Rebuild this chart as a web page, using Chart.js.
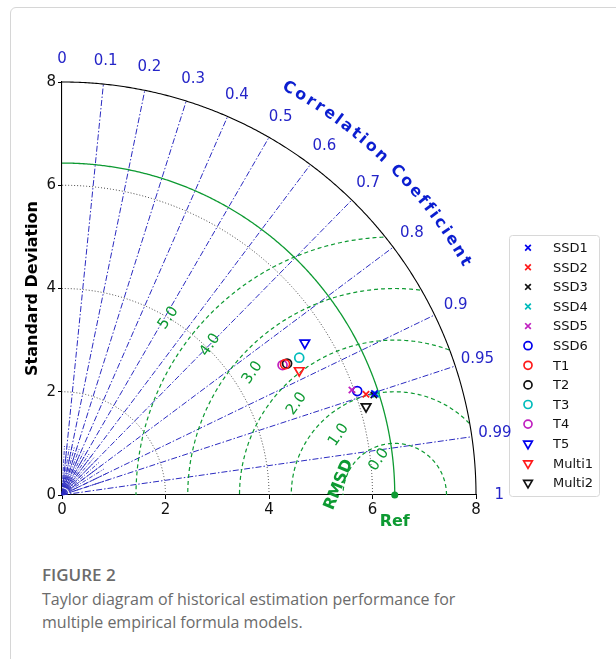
<!DOCTYPE html>
<html>
<head>
<meta charset="utf-8">
<script src="https://cdn.jsdelivr.net/npm/chart.js@4.4.1/dist/chart.umd.min.js"></script>
<style>
html,body{margin:0;padding:0;background:#fff}
#page{position:relative;width:616px;height:659px;overflow:hidden}
#card{position:absolute;left:10px;top:7px;width:660px;height:720px;border:1px solid #d6d6d6;border-radius:6px}
#wrap{position:absolute;left:0;top:0;width:616px;height:545px}
#cap{position:absolute;left:42px;top:563px;font-family:"Open Sans",sans-serif;color:#6b6b6b;font-size:16px;line-height:23px}
#cap b{display:block;font-weight:600;font-size:17px;margin-bottom:2px}
</style>
</head>
<body>
<div id="page">
  <div id="card"></div>
  <div id="wrap"><canvas id="taylor"></canvas></div>
  <div id="cap"><b>FIGURE 2</b>Taylor diagram of historical estimation performance for<br>multiple empirical formula models.</div>
</div>
<script>
// values: standard deviation and correlation of each model
const MODELS = ['SSD1','SSD2','SSD3','SSD4','SSD5','SSD6','T1','T2','T3','T4','T5','Multi1','Multi2']
const STD    = [6.35, 6.19, 6.33, 6.38, 5.96, 6.05, 5.00, 5.04, 5.30, 4.95, 5.54, 5.18, 6.12]
const CORR   = [0.951, 0.949, 0.952, 0.952, 0.940, 0.943, 0.862, 0.863, 0.865, 0.861, 0.847, 0.885, 0.960]
const REF_STD = 6.43

const STD_TICKS  = [0, 2, 4, 6, 8]
const STD_GRID   = [2, 4, 6]
const CORR_TICKS = [0, 0.1, 0.2, 0.3, 0.4, 0.5, 0.6, 0.7, 0.8, 0.9, 0.95, 0.99, 1]
const RMS_LEVELS = [1, 2, 3, 4, 5]
const RMS_LABELS = ['0.0', '1.0', '2.0', '3.0', '4.0', '5.0']

// styles
const BLUE = '#0000ee', RED = '#ff1a1a', BLACK = '#111', CYAN = '#00bcbc', MAG = '#c020c0'
const GREEN = '#0d9a32'
const MARK = [
  ['crossRot', BLUE], ['crossRot', RED], ['crossRot', BLACK], ['crossRot', CYAN], ['crossRot', MAG],
  ['circle', BLUE], ['circle', RED], ['circle', BLACK], ['circle', CYAN], ['circle', MAG],
  ['triangle', BLUE], ['triangle', RED], ['triangle', BLACK]
]
// where the contour labels sit: [distance from Ref, angle in degrees]
const RMS_LABEL_POS = [[0.75, 114], [1.59, 133], [2.59, 137], [3.63, 139.3], [4.6, 140.8], [5.56, 141.9]]

const RMAX = 8
const FONT = "'DejaVu Sans', sans-serif"

const rad = d => d * Math.PI / 180

const datasets = MODELS.map((m, i) => {
  const [style, col] = MARK[i]
  return {
    label: m,
    data: [{ x: STD[i] * CORR[i], y: STD[i] * Math.sqrt(1 - CORR[i] * CORR[i]) }],
    pointStyle: style,
    pointRotation: style == 'triangle' ? 180 : 0,
    pointRadius: style == 'triangle' ? 5.5 : 4.5,
    borderColor: col,
    backgroundColor: 'rgba(0,0,0,0)',
    borderWidth: 1.7,
    clip: false
  }
})
datasets.push({
  label: 'Ref', data: [{ x: REF_STD, y: 0 }], pointStyle: 'circle', pointRadius: 3.5,
  backgroundColor: GREEN, borderColor: GREEN, borderWidth: 0, clip: false
})

const taylorGrid = {
  id: 'taylorGrid',
  beforeDatasetsDraw(chart) {
    const { ctx, scales: { x, y } } = chart
    const line = (pts, color, width, dash) => {
      ctx.save()
      ctx.beginPath()
      pts.forEach((p, k) => {
        const px = x.getPixelForValue(p[0]), py = y.getPixelForValue(p[1])
        k ? ctx.lineTo(px, py) : ctx.moveTo(px, py)
      })
      ctx.strokeStyle = color; ctx.lineWidth = width; ctx.setLineDash(dash)
      ctx.stroke()
      ctx.restore()
    }
    const arc = (cx, r, amax, keep) => {
      const pts = []
      for (let k = 0; k <= 360; k++) {
        const a = amax * k / 360
        const p = [cx + r * Math.cos(a), r * Math.sin(a)]
        if (!keep || keep(p)) pts.push(p)
      }
      return pts
    }
    // short radial lines around the origin
    for (let c = 0.05; c < 1; c += 0.05) {
      const a = Math.acos(c)
      line([[0, 0], [0.95 * Math.cos(a), 0.95 * Math.sin(a)]], '#2b2bc0', 0.9, [4, 1.5, 1, 1.5])
    }
    // correlation lines
    CORR_TICKS.filter(c => c > 0 && c < 1).forEach(c => {
      const a = Math.acos(c)
      line([[0, 0], [RMAX * Math.cos(a), RMAX * Math.sin(a)]], '#2b2bc0', 1, [6, 2, 1.5, 2])
    })
    // std dev dotted arcs
    STD_GRID.forEach(r => line(arc(0, r, Math.PI / 2), '#444', 1, [1, 2]))
    // RMSD contours around Ref
    RMS_LEVELS.forEach(r => {
      line(arc(REF_STD, r, Math.PI, p => Math.hypot(p[0], p[1]) <= RMAX && p[0] >= 0), GREEN, 1.2, [4, 3])
    })
    // Ref std arc
    line(arc(0, REF_STD, Math.PI / 2), GREEN, 1.3, [])
    // outer arc
    line(arc(0, RMAX, Math.PI / 2), '#000', 1.1, [])
  },
  afterDraw(chart) {
    const { ctx, scales: { x, y } } = chart
    const px = v => x.getPixelForValue(v), py = v => y.getPixelForValue(v)
    const unit = px(1) - px(0)
    ctx.save()
    // legend
    const lx = 509, ly = 235, lw = 90, lh = 261
    ctx.beginPath()
    ctx.roundRect(lx + 0.5, ly + 0.5, lw, lh, 3)
    ctx.strokeStyle = '#d8d8d8'; ctx.lineWidth = 1; ctx.stroke()
    ctx.font = '13px ' + FONT
    ctx.textAlign = 'left'; ctx.textBaseline = 'middle'
    chart.data.datasets.slice(0, MODELS.length).forEach((ds, k) => {
      const yy = 247.7 + k * 19.6
      ctx.strokeStyle = ds.borderColor; ctx.lineWidth = 1.7; ctx.fillStyle = 'rgba(0,0,0,0)'
      Chart.helpers.drawPoint(ctx, { pointStyle: ds.pointStyle, rotation: ds.pointRotation, radius: ds.pointRadius - 0.5, borderWidth: 1.7 }, 528, yy)
      ctx.fillStyle = '#111'
      ctx.fillText(ds.label, 553, yy + 1)
    })
    // correlation tick labels
    ctx.font = '15px ' + FONT
    ctx.fillStyle = '#2525c8'
    ctx.textAlign = 'center'
    CORR_TICKS.forEach(c => {
      const a = Math.acos(c), r = 8.45
      ctx.fillText(String(c), px(r * Math.cos(a)), py(r * Math.sin(a)))
    })
    // curved axis title
    const title = 'Correlation Coefficient'
    ctx.font = 'bold 16px ' + FONT
    ctx.fillStyle = '#0b1ed0'
    const R = 9.0 * unit, a0 = rad(61.6), a1 = rad(29.6)
    const widths = [...title].map(ch => ctx.measureText(ch).width)
    const total = R * (a0 - a1)
    const gap = (total - widths.reduce((s, w) => s + w, 0)) / (title.length - 1)
    let run = 0
    ;[...title].forEach((ch, k) => {
      const th = a0 - (run + widths[k] / 2) / R
      run += widths[k] + gap
      ctx.save()
      ctx.translate(px(0) + R * Math.cos(th), py(0) - R * Math.sin(th))
      ctx.rotate(Math.PI / 2 - th)
      ctx.fillText(ch, 0, 0)
      ctx.restore()
    })
    // RMSD contour labels
    ctx.fillStyle = GREEN
    ctx.font = '15px ' + FONT
    RMS_LABELS.forEach((t, k) => {
      const [d, ang] = RMS_LABEL_POS[k]
      ctx.save()
      ctx.translate(px(REF_STD + d * Math.cos(rad(ang))), py(d * Math.sin(rad(ang))))
      ctx.rotate(rad(-55))
      ctx.fillText(t, 0, 0)
      ctx.restore()
    })
    ctx.font = 'bold 16px ' + FONT
    ctx.save()
    ctx.translate(px(REF_STD - 1.08), py(0.2))
    ctx.rotate(rad(-68))
    ctx.fillText('RMSD', 0, 0)
    ctx.restore()
    ctx.fillText('Ref', px(REF_STD), py(0) + 27)
    ctx.restore()
  }
}

const axis = {
  type: 'linear', min: 0, max: RMAX,
  grid: { drawOnChartArea: false, drawTicks: true, tickLength: 4, color: '#000' },
  border: { color: '#000', width: 1.1 },
  ticks: { stepSize: 2, color: '#111', font: { size: 15, family: FONT }, padding: 2,
    callback: v => STD_TICKS.includes(v) ? v : '' }
}

new Chart(document.getElementById('taylor'), {
  type: 'scatter',
  data: { datasets },
  options: {
    responsive: true, maintainAspectRatio: false, animation: false,
    layout: { padding: { left: 0, top: 82, right: 140, bottom: 20 } },
    plugins: { legend: { display: false }, tooltip: { enabled: false } },
    scales: {
      x: { ...axis, afterFit: s => { s.height = 30 } },
      y: { ...axis, afterFit: s => { s.width = 62 },
        title: { display: true, text: 'Standard Deviation', color: '#000',
          font: { size: 16, weight: 'bold', family: FONT }, padding: { top: 23, bottom: 0 } } }
    }
  },
  plugins: [taylorGrid]
})
</script>
</body>
</html>
